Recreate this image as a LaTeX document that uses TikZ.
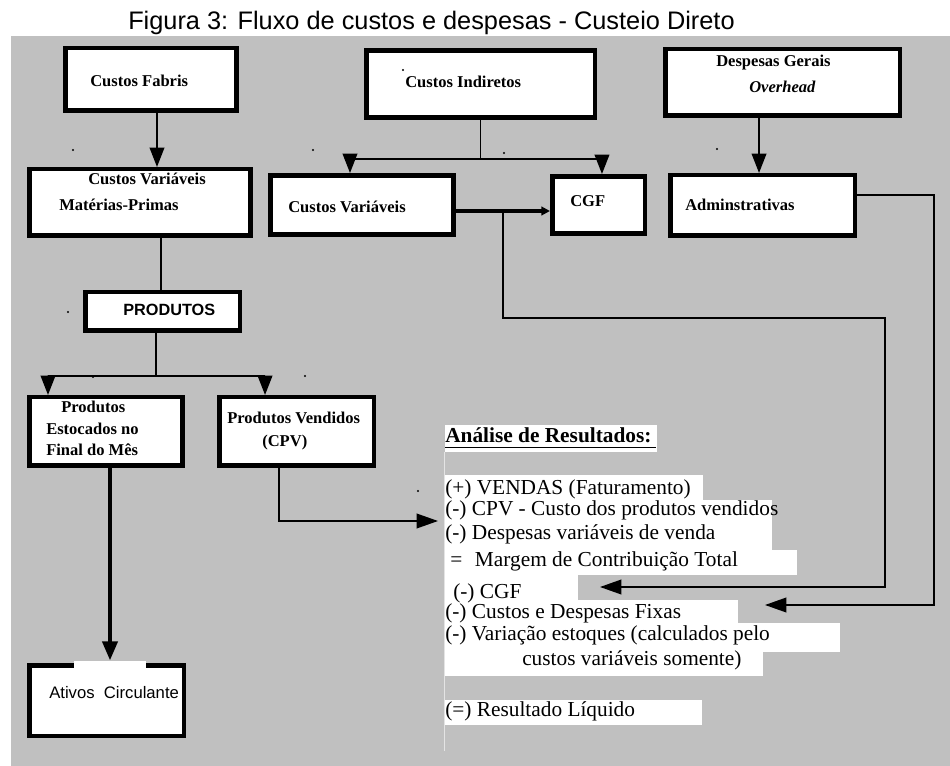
\documentclass[tikz,border=0pt]{standalone}
\usepackage{fontspec}
\setmainfont{Liberation Serif}
\setsansfont{Liberation Sans}
\usetikzlibrary{arrows.meta}
\definecolor{panelgray}{HTML}{C0C0C0}
\definecolor{edgegray}{HTML}{E4E4E4}
\begin{document}
\begin{tikzpicture}[x=0.75pt,y=-0.75pt,
  box/.style={draw=black, line width=3.4pt, fill=white, inner sep=0pt},
  lbl/.style={inner sep=0pt, anchor=base west, font=\bfseries\fontsize{12.4}{14}\selectfont},
  res/.style={inner sep=0pt, anchor=base west, font=\fontsize{16}{18}\selectfont},
  conn/.style={line width=1.2pt},
  heavy/.style={line width=2.6pt},
  heavier/.style={line width=3.5pt},
  tip/.style={-{Triangle[length=14.5pt,width=11pt]}},
  lefttip/.style={-{Triangle[length=16pt,width=11pt]}},
  smalltip/.style={-{Triangle[length=6.5pt,width=6.5pt]}},
  stray/.style={fill=black},
  panel/.style={fill=white}
]
\useasboundingbox (0,0) rectangle (950,766);

% title and grey canvas
\node[inner sep=0pt, anchor=base west, font=\sffamily\fontsize{19}{22}\selectfont] (title) at (128,30)
  {Figura 3: Fluxo de custos e despesas - Custeio Direto};
\fill[panelgray] (11,36) rectangle (950,766);

% boxes
\node[box, minimum width=128.6pt, minimum height=46.9pt] (fabris)    at (151,79.5)  {};
\node[box, minimum width=171.4pt, minimum height=50.6pt] (indiretos) at (480.5,84)  {};
\node[box, minimum width=175.9pt, minimum height=49.9pt] (gerais)    at (782.5,82.5) {};
\node[box, minimum width=166.1pt, minimum height=49.9pt] (cvmp)      at (140,202.5) {};
\node[box, minimum width=137.6pt, minimum height=44.6pt] (cvar)      at (362,205)   {};
\node[box, minimum width=69.4pt,  minimum height=43.1pt] (cgf)       at (598.5,205) {};
\node[box, minimum width=138.4pt, minimum height=45.4pt] (admin)     at (762.5,205.5) {};
\node[box, minimum width=115.9pt, minimum height=28.9pt] (produtos)  at (162.5,311.5) {};
\node[box, minimum width=115.1pt, minimum height=51.4pt] (estoc)     at (106,431.5) {};
\node[box, minimum width=115.9pt, minimum height=51.4pt] (vend)      at (296.5,431.5) {};
\node[box, minimum width=115.9pt, minimum height=52.9pt] (ativos)    at (106.5,700.5) {};
\fill[white] (74,661) rectangle (146,668);

% box texts
\node[lbl] (tfabris) at (90,87) {Custos Fabris};
\node[lbl] (tindiretos) at (405,88) {Custos Indiretos};
\node[lbl] (tgerais) at (716,67) {Despesas Gerais};
\node[lbl, font=\bfseries\itshape\fontsize{12.4}{14}\selectfont] (tover) at (749,93) {Overhead};
\node[lbl] (tcv1) at (88,185) {Custos Variáveis};
\node[lbl] (tmp) at (59,211) {Matérias-Primas};
\node[lbl] (tcvar) at (288,213) {Custos Variáveis};
\node[lbl] (tcgf) at (570,207) {CGF};
\node[lbl] (tadmin) at (685,211) {Adminstrativas};
\node[lbl, font=\sffamily\bfseries\fontsize{12.2}{14}\selectfont] (tprod) at (123,316) {PRODUTOS};
\node[lbl] (test1) at (61,413) {Produtos};
\node[lbl] (test2) at (46,435) {Estocados no};
\node[lbl] (test3) at (46,456) {Final do Mês};
\node[lbl] (tvend1) at (227,424) {Produtos Vendidos};
\node[lbl] (tvend2) at (262,447) {(CPV)};
\node[lbl, font=\sffamily\fontsize{12.5}{14}\selectfont] (tativos) at (49,698) {Ativos\ \ Circulante};

% result statement panels
\fill[panel] (445,425) rectangle (657,452);
\fill[panel] (445,475) rectangle (703,500);
\fill[panel] (445,500) rectangle (772,550);
\fill[panel] (445,550) rectangle (797,575);
\fill[panel] (445,575) rectangle (578,600);
\fill[panel] (445,600) rectangle (738,623);
\fill[panel] (445,623) rectangle (840,652);
\fill[panel] (445,652) rectangle (763,676);
\fill[panel] (445,700) rectangle (702,725);
\draw[edgegray, line width=1pt] (444.5,452) -- (444.5,751);

% result statement text
\node[res, font=\bfseries\fontsize{16}{18}\selectfont] (ana) at (445,443) {Análise de Resultados:};
\draw[line width=1.1pt] ([yshift=-3.2pt]ana.base west) -- ([yshift=-3.2pt,xshift=3.5pt]ana.base east);
\node[res] (r1) at (445,494) {(+) VENDAS (Faturamento)};
\node[res] (r2) at (445,516) {(-) CPV - Custo dos produtos vendidos};
\node[res] (r3) at (445,540) {(-) Despesas variáveis de venda};
\node[res] (r4) at (450,566) {=\hspace{9.5pt}Margem de Contribuição Total};
\node[res] (r5) at (453,598) {(-) CGF};
\node[res] (r6) at (445,618) {(-) Custos e Despesas Fixas};
\node[res] (r7) at (445,640) {(-) Variação estoques (calculados pelo};
\node[res] (r8) at (522,665) {custos variáveis somente)};
\node[res] (r9) at (445,716) {(=) Resultado Líquido};

% connector end points on the statement
\coordinate (cpvIn) at (438,521);
\coordinate (cgfIn) at (600,587);
\coordinate (fixIn) at (765,605);

% connectors
\draw[conn,tip] ([xshift=4.5pt]fabris.south) -- ([xshift=4.5pt]fabris.south |- cvmp.north);

\draw[conn] (indiretos.south) -- ++(0,39.25) coordinate (j1);
\draw[conn,tip] (j1) -| ([xshift=-9pt]cvar.north);
\draw[conn,tip] (j1) -| ([xshift=2.6pt]cgf.north);

\draw[heavy,smalltip] ([yshift=-4.5pt]cvar.east) -- ([yshift=-4.5pt]cgf.west);
\path ([yshift=-4.5pt]cvar.east) -- ([yshift=-4.5pt]cgf.west) coordinate[pos=0.5] (br);
\draw[conn,lefttip] (br) |- (885,318) |- (cgfIn);

\draw[conn,tip] ([xshift=-17.6pt]gerais.south) -- ([xshift=-17.6pt]gerais.south |- admin.north);
\draw[conn,lefttip] ([yshift=7.9pt]admin.east) -| (934,605) -- (fixIn);

\draw[conn] ([xshift=15.75pt]cvmp.south) -- ([xshift=15.75pt]cvmp.south |- produtos.north);

\draw[conn] ([xshift=-4.9pt]produtos.south) -- ++(0,43.25) coordinate (j2);
\draw[conn,tip] (j2) -| ([xshift=-43.5pt]estoc.north);
\draw[conn,tip] (j2) -| ([xshift=-23.6pt]vend.north);

\draw[heavier,tip] ([xshift=3pt]estoc.south) -- ([xshift=3pt,yshift=1.7pt]estoc.south |- ativos.north);

\draw[conn,lefttip] ([xshift=-13.1pt]vend.south) |- (cpvIn);

% loose full stops scattered over the canvas
\foreach \p in {(73,150),(313,150),(504,153),(717,149),(403,70),(68,312),(93,377),(305,376),(418,491)}
  \fill[stray] \p circle[radius=0.9pt];
\end{tikzpicture}
\end{document}
